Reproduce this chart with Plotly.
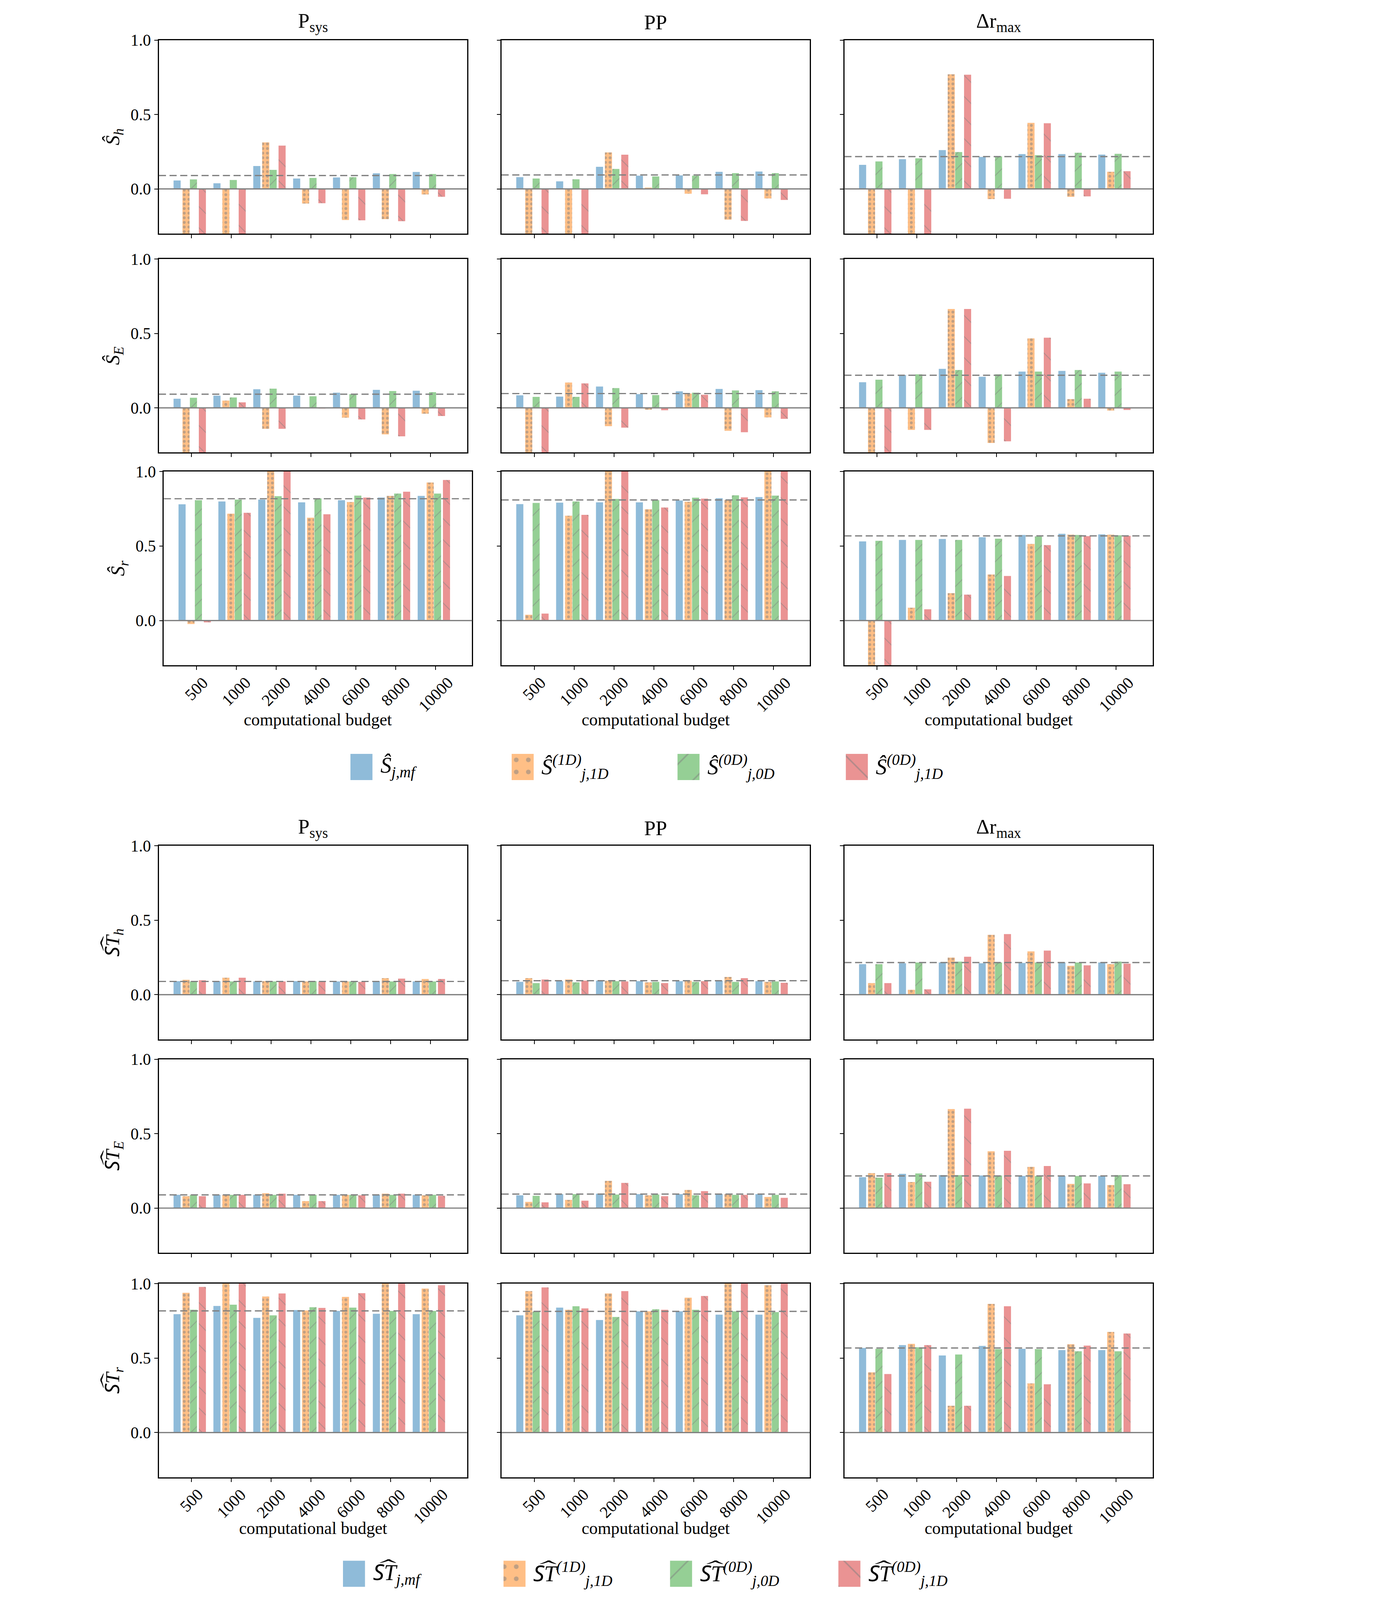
import plotly.graph_objects as go

budgets = ["500", "1000", "2000", "4000", "6000", "8000", "10000"]
outputs = ["P<sub>sys</sub>", "PP", "Δr<sub>max</sub>"]

# each table: [mf, 1D, 0D, 0D-1D] ; -0.45 / 1.05 = bar runs off the axis
Sh_Psys = [[0.057, 0.038, 0.154, 0.070, 0.077, 0.105, 0.114],
           [-0.45, -0.45, 0.313, -0.098, -0.209, -0.203, -0.037],
           [0.064, 0.060, 0.128, 0.074, 0.079, 0.100, 0.100],
           [-0.45, -0.45, 0.291, -0.096, -0.211, -0.217, -0.053]]
Sh_PP = [[0.079, 0.051, 0.149, 0.089, 0.091, 0.115, 0.117],
         [-0.45, -0.45, 0.245, 0.009, -0.032, -0.206, -0.064],
         [0.070, 0.065, 0.134, 0.084, 0.089, 0.106, 0.106],
         [-0.45, -0.45, 0.230, 0.005, -0.036, -0.215, -0.074]]
Sh_dr = [[0.162, 0.200, 0.261, 0.215, 0.234, 0.234, 0.231],
         [-0.45, -0.45, 0.770, -0.068, 0.444, -0.053, 0.115],
         [0.185, 0.206, 0.248, 0.219, 0.227, 0.243, 0.236],
         [-0.45, -0.45, 0.767, -0.066, 0.441, -0.050, 0.119]]
SE_Psys = [[0.061, 0.082, 0.125, 0.082, 0.102, 0.121, 0.115],
           [-0.45, 0.049, -0.141, -0.002, -0.066, -0.178, -0.039],
           [0.068, 0.070, 0.129, 0.078, 0.092, 0.113, 0.105],
           [-0.45, 0.037, -0.141, -0.004, -0.078, -0.191, -0.055]]
SE_PP = [[0.084, 0.076, 0.143, 0.092, 0.111, 0.127, 0.119],
         [-0.45, 0.170, -0.123, -0.012, 0.096, -0.154, -0.064],
         [0.074, 0.074, 0.133, 0.086, 0.102, 0.117, 0.111],
         [-0.45, 0.164, -0.133, -0.016, 0.088, -0.164, -0.074]]
SE_dr = [[0.172, 0.221, 0.262, 0.209, 0.244, 0.248, 0.236],
         [-0.45, -0.148, 0.664, -0.236, 0.467, 0.059, -0.018],
         [0.189, 0.225, 0.254, 0.225, 0.244, 0.254, 0.244],
         [-0.45, -0.148, 0.664, -0.225, 0.471, 0.061, -0.014]]
Sr_Psys = [[0.780, 0.799, 0.811, 0.793, 0.807, 0.825, 0.836],
           [-0.023, 0.717, 1.05, 0.690, 0.795, 0.836, 0.926],
           [0.807, 0.811, 0.834, 0.819, 0.838, 0.852, 0.852],
           [-0.012, 0.723, 1.05, 0.713, 0.825, 0.864, 0.943]]
Sr_PP = [[0.781, 0.791, 0.793, 0.793, 0.805, 0.820, 0.828],
         [0.039, 0.703, 1.05, 0.746, 0.797, 0.809, 1.05],
         [0.789, 0.799, 0.816, 0.807, 0.824, 0.840, 0.838],
         [0.047, 0.709, 1.05, 0.758, 0.818, 0.826, 1.05]]
Sr_dr = [[0.531, 0.541, 0.547, 0.559, 0.574, 0.582, 0.578],
         [-0.45, 0.086, 0.184, 0.309, 0.514, 0.576, 0.576],
         [0.535, 0.541, 0.541, 0.549, 0.564, 0.574, 0.572],
         [-0.45, 0.076, 0.174, 0.299, 0.506, 0.566, 0.568]]

STh_Psys = [[0.091, 0.091, 0.089, 0.091, 0.089, 0.091, 0.089],
            [0.100, 0.114, 0.091, 0.089, 0.089, 0.111, 0.105],
            [0.089, 0.089, 0.089, 0.091, 0.089, 0.089, 0.089],
            [0.097, 0.114, 0.089, 0.086, 0.086, 0.108, 0.105]]
STh_PP = [[0.086, 0.091, 0.094, 0.091, 0.091, 0.094, 0.091],
          [0.111, 0.102, 0.094, 0.083, 0.094, 0.119, 0.086],
          [0.078, 0.083, 0.091, 0.086, 0.086, 0.086, 0.089],
          [0.102, 0.094, 0.089, 0.078, 0.091, 0.111, 0.080]]
STh_dr = [[0.205, 0.211, 0.216, 0.211, 0.213, 0.216, 0.216],
          [0.078, 0.033, 0.249, 0.402, 0.291, 0.194, 0.205],
          [0.205, 0.216, 0.222, 0.216, 0.216, 0.216, 0.222],
          [0.078, 0.036, 0.255, 0.407, 0.296, 0.197, 0.208]]
STE_Psys = [[0.089, 0.089, 0.089, 0.089, 0.089, 0.089, 0.089],
            [0.080, 0.089, 0.100, 0.047, 0.089, 0.097, 0.086],
            [0.089, 0.089, 0.089, 0.089, 0.089, 0.089, 0.089],
            [0.080, 0.089, 0.097, 0.047, 0.086, 0.097, 0.083]]
STE_PP = [[0.086, 0.094, 0.097, 0.094, 0.094, 0.094, 0.094],
          [0.042, 0.055, 0.183, 0.086, 0.122, 0.094, 0.075],
          [0.083, 0.094, 0.091, 0.091, 0.086, 0.089, 0.089],
          [0.039, 0.050, 0.169, 0.080, 0.114, 0.089, 0.069]]
STE_dr = [[0.208, 0.230, 0.222, 0.219, 0.216, 0.216, 0.216],
          [0.235, 0.175, 0.665, 0.382, 0.277, 0.163, 0.155],
          [0.205, 0.233, 0.222, 0.219, 0.216, 0.216, 0.222],
          [0.235, 0.177, 0.668, 0.385, 0.283, 0.166, 0.161]]
STr_Psys = [[0.795, 0.850, 0.770, 0.823, 0.817, 0.798, 0.795],
            [0.939, 1.05, 0.914, 0.820, 0.911, 1.05, 0.967],
            [0.825, 0.859, 0.787, 0.842, 0.839, 0.817, 0.817],
            [0.978, 1.05, 0.934, 0.837, 0.936, 1.05, 0.989]]
STr_PP = [[0.787, 0.839, 0.756, 0.814, 0.814, 0.792, 0.792],
          [0.950, 0.825, 0.934, 0.814, 0.906, 1.05, 0.989],
          [0.812, 0.848, 0.776, 0.828, 0.825, 0.814, 0.809],
          [0.975, 0.834, 0.950, 0.825, 0.917, 1.05, 1.05]]
STr_dr = [[0.568, 0.587, 0.518, 0.582, 0.562, 0.554, 0.554],
          [0.404, 0.596, 0.180, 0.864, 0.330, 0.593, 0.676],
          [0.562, 0.573, 0.524, 0.560, 0.560, 0.546, 0.546],
          [0.393, 0.587, 0.180, 0.848, 0.324, 0.584, 0.665]]

# dashed reference level of each panel (rows x cols)
ref_top = [[0.090, 0.094, 0.217], [0.092, 0.096, 0.219], [0.817, 0.809, 0.568]]
ref_bot = [[0.089, 0.094, 0.216], [0.089, 0.094, 0.216], [0.817, 0.814, 0.568]]

tables_top = [[Sh_Psys, Sh_PP, Sh_dr], [SE_Psys, SE_PP, SE_dr], [Sr_Psys, Sr_PP, Sr_dr]]
tables_bot = [[STh_Psys, STh_PP, STh_dr], [STE_Psys, STE_PP, STE_dr], [STr_Psys, STr_PP, STr_dr]]

ST = "S\u1dcdT"
ylab_top = ["<i>Ŝ<sub>h</sub></i>", "<i>Ŝ<sub>E</sub></i>", "<i>Ŝ<sub>r</sub></i>"]
ylab_bot = [f"<i>{ST}<sub>h</sub></i>", f"<i>{ST}<sub>E</sub></i>", f"<i>{ST}<sub>r</sub></i>"]
leg_top = ["<i>Ŝ<sub>j,mf</sub></i>", "<i>Ŝ<sup>(1D)</sup><sub>j,1D</sub></i>",
           "<i>Ŝ<sup>(0D)</sup><sub>j,0D</sub></i>", "<i>Ŝ<sup>(0D)</sup><sub>j,1D</sub></i>"]
leg_bot = [f"<i>{ST}<sub>j,mf</sub></i>", f"<i>{ST}<sup>(1D)</sup><sub>j,1D</sub></i>",
           f"<i>{ST}<sup>(0D)</sup><sub>j,0D</sub></i>", f"<i>{ST}<sup>(0D)</sup><sub>j,1D</sub></i>"]

# ---- styling ----
# layout measured on the 3543x4499 reference; the page shows ~1.1x, so draw at 1/1.1
RW, RH = 3543, 4499
K = 1 / 1.1
W, H = round(RW * K), round(RH * K)


def px(v):
    return v * K


FONT = "Liberation Serif"
GRAY = "#808080"
colors = ["#8fbbd9", "#ffbf86", "#95cf95", "#ea9393"]
patterns = [dict(shape=""),
            dict(shape=".", size=px(13), solidity=0.3, fgcolor=GRAY),
            dict(shape="/", size=px(30), solidity=0.08, fgcolor=GRAY),
            dict(shape="\\", size=px(42), solidity=0.06, fgcolor=GRAY)]
offsets = [-0.45, -0.226, -0.04, 0.184]
bar_w = 0.178

cols_x = [(438.6, 1306.5), (1403.6, 2271.6), (2368.9, 3236.9)]
rows_top = [(104, 649), (720.5, 1265.5), (1318.8, 1864.7)]
rows_bot = [(2373, 2918), (2974, 3519), (3606, 4151)]


def ax_names(k):
    s = "" if k == 1 else str(k)
    return "x" + s, "y" + s, "xaxis" + s, "yaxis" + s


fig = go.Figure()
layout = {}
shapes = []
annotations = []
xpos = list(range(len(budgets)))
tick_font = dict(family=FONT, size=px(46), color="black")

n = 0
for grp, (tables, refs, rows, ylabs) in enumerate([(tables_top, ref_top, rows_top, ylab_top),
                                                     (tables_bot, ref_bot, rows_bot, ylab_bot)]):
    for r in range(3):
        for c in range(3):
            n += 1
            x0, x1 = cols_x[c]
            if grp == 0 and r == 2 and c == 0:
                x0, x1 = x0 + 14, x1 + 14
            y0, y1 = rows[r]
            xa, ya, xkey, ykey = ax_names(n)
            for s in range(4):
                fig.add_trace(go.Bar(
                    x=xpos, y=tables[r][c][s], xaxis=xa, yaxis=ya,
                    width=bar_w, offset=offsets[s],
                    marker=dict(color=colors[s], line=dict(width=0),
                                pattern=dict(bgcolor=colors[s], **patterns[s])),
                    showlegend=False, hoverinfo="y"))
            layout[xkey] = dict(
                domain=[x0 / RW, x1 / RW], anchor=ya, range=[-0.818, 6.915],
                automargin=False, tickvals=xpos, showticklabels=False,
                ticks="outside", ticklen=px(10), tickwidth=px(2.5),
                tickcolor="black", showline=True, mirror=True, linecolor="black",
                linewidth=px(2.8), showgrid=False, zeroline=False)
            layout[ykey] = dict(
                domain=[1 - y1 / RH, 1 - y0 / RH], anchor=xa, range=[-0.3, 1.0],
                automargin=False,
                tickvals=[0, 0.5, 1.0], ticktext=["0.0", "0.5", "1.0"],
                showticklabels=(c == 0), ticks="outside", ticklen=px(10),
                tickwidth=px(2.5), tickcolor="black", showline=True, mirror=True,
                linecolor="black", linewidth=px(2.8), showgrid=False, zeroline=False,
                tickfont=tick_font,
                title=dict(text=ylabs[r] if c == 0 else "", standoff=px(14),
                           font=dict(family=FONT, size=px(56), color="black")))
            shapes.append(dict(type="line", xref=f"{xa} domain", yref=ya,
                               x0=0, x1=1, y0=0, y1=0,
                               line=dict(color=GRAY, width=px(3.5))))
            shapes.append(dict(type="line", xref=f"{xa} domain", yref=ya,
                               x0=0, x1=1, y0=refs[r][c], y1=refs[r][c],
                               line=dict(color=GRAY, width=px(3.5),
                                         dash=f"{px(20):.1f}px,{px(10):.1f}px")))
            if r == 0:
                annotations.append(dict(text=outputs[c], xref="paper", yref="paper",
                                        x=(x0 + x1) / 2 / RW, y=1 - (y0 - 50) / RH,
                                        showarrow=False, xanchor="center",
                                        yanchor="middle",
                                        font=dict(family=FONT, size=px(58), color="black")))
            if r == 2:
                # rotated budget labels, centred under each tick (matplotlib style)
                for i, lab in enumerate(budgets):
                    annotations.append(dict(text=lab, xref=xa, yref=f"{ya} domain",
                                            x=xpos[i], y=0, xanchor="center",
                                            yanchor="top", yshift=-px(20),
                                            textangle=-45, showarrow=False,
                                            font=tick_font))
                yl = 2017 if grp == 0 else 4294
                annotations.append(dict(text="computational budget", xref="paper",
                                        yref="paper", x=(x0 + x1) / 2 / RW, y=1 - yl / RH,
                                        showarrow=False, xanchor="center",
                                        yanchor="middle",
                                        font=dict(family=FONT, size=px(48), color="black")))

# ---- hand-made legends (one per group), drawn on two hidden axes in reference px ----
leg_x = [[978, 1432, 1899, 2373], [957, 1409, 1878, 2352]]
leg_y = [(2114, 2188), (4386, 4460)]
leg_pat = [dict(shape=""),
           dict(shape=".", size=px(34), solidity=0.12, fgcolor=GRAY),
           dict(shape="/", size=px(62), solidity=0.07, fgcolor=GRAY),
           dict(shape="\\", size=px(62), solidity=0.07, fgcolor=GRAY)]
for g in range(2):
    n += 1
    xa, ya, xkey, ykey = ax_names(n)
    y0, y1 = leg_y[g]
    layout[xkey] = dict(domain=[0, 1], range=[0, RW], anchor=ya, visible=False,
                        fixedrange=True, automargin=False)
    layout[ykey] = dict(domain=[1 - y1 / RH, 1 - y0 / RH], range=[0, 1], anchor=xa,
                        visible=False, fixedrange=True, automargin=False)
    labels = leg_top if g == 0 else leg_bot
    for s in range(4):
        lx = leg_x[g][s]
        fig.add_trace(go.Scatter(
            x=[lx, lx + 62, lx + 62, lx, lx], y=[0, 0, 1, 1, 0], xaxis=xa, yaxis=ya,
            mode="lines", fill="toself", fillcolor=colors[s], line=dict(width=0),
            fillpattern=dict(bgcolor=colors[s], **leg_pat[s]),
            showlegend=False, hoverinfo="skip"))
        annotations.append(dict(text=labels[s], xref=xa, yref=ya, x=lx + 82, y=0.5,
                                xanchor="left", yanchor="middle", showarrow=False,
                                font=dict(family=FONT, size=px(62), color="black")))

fig.update_layout(
    width=W, height=H,
    margin=dict(l=0, r=0, t=0, b=0, pad=0, autoexpand=False),
    barmode="overlay",
    plot_bgcolor="white", paper_bgcolor="white",
    font=dict(family=FONT, color="black"),
    shapes=shapes, annotations=annotations,
    showlegend=False,
    **layout)

fig.write_html("out.html")
